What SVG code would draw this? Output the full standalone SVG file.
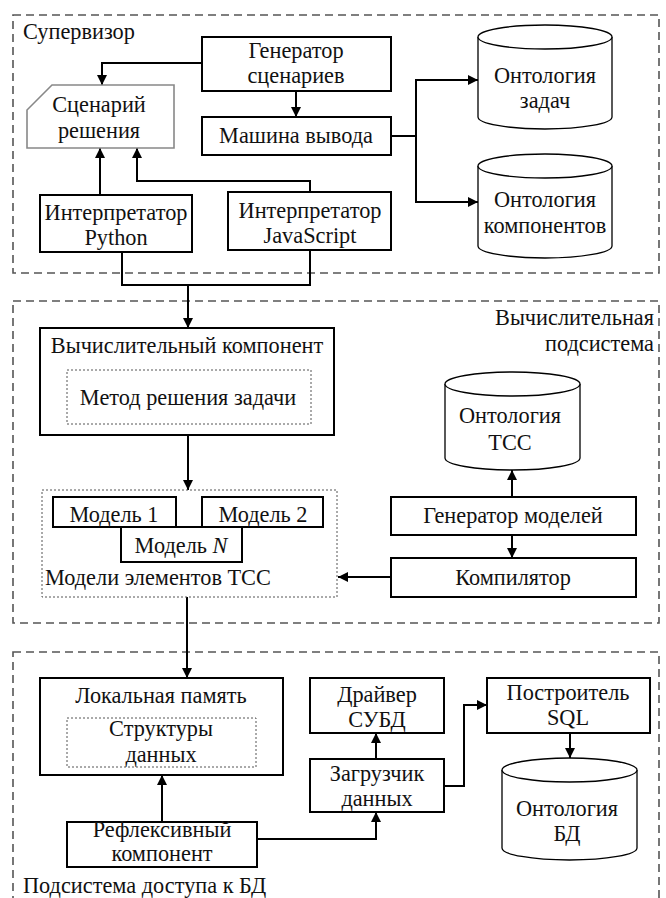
<svg xmlns="http://www.w3.org/2000/svg" width="666" height="898" viewBox="0 0 666 898">
  <defs>
    <marker id="arrow" viewBox="0 0 10 10" refX="10" refY="5" markerWidth="10" markerHeight="10" markerUnits="userSpaceOnUse" orient="auto">
      <path d="M0,0 L10,5 L0,10 z" fill="#000"/>
    </marker>
  </defs>
  <style>
    text { font-family: "Liberation Serif", "Times New Roman", serif; font-size: 22.3px; fill: #111; }
    .mid { text-anchor: middle; }
    .end { text-anchor: end; }
    .box { fill: #fff; stroke: #000; stroke-width: 2; }
    .frame { fill: none; stroke: #555; stroke-width: 1.6; stroke-dasharray: 8 5; }
    .dotted { fill: none; stroke: #555; stroke-width: 1; stroke-dasharray: 2 2; }
    .doc { fill: #fff; stroke: #888; stroke-width: 1.6; }
    .cyl { fill: #fff; stroke: #000; stroke-width: 1.3; }
    .wire { fill: none; stroke: #000; stroke-width: 2; }
    .arr { marker-end: url(#arrow); }
  </style>

  <rect width="666" height="898" fill="#fff"/>

  <!-- subsystem frames -->
  <g id="frame-supervisor">
    <rect class="frame" x="13" y="15" width="646" height="258"/>
    <text x="23" y="39">Супервизор</text>
  </g>
  <g id="frame-compute">
    <rect class="frame" x="13" y="301" width="646" height="322"/>
    <text class="end" x="654" y="325">Вычислительная</text>
    <text class="end" x="654" y="351">подсистема</text>
  </g>
  <g id="frame-db">
    <rect class="frame" x="13" y="652" width="646" height="260"/>
    <text x="23" y="893">Подсистема доступа к БД</text>
  </g>

  <!-- connectors -->
  <g id="connectors">
    <path class="wire arr" d="M202,63 H102 V85"/>
    <path class="wire arr" d="M296,91 V117"/>
    <path class="wire arr" d="M100,195 V148"/>
    <path class="wire arr" d="M310,192 V181 H137 V148"/>
    <path class="wire" d="M122,252 V285 H310 V250"/>
    <path class="wire arr" d="M188,285 V328"/>
    <path class="wire" d="M391,136 H416"/>
    <path class="wire arr" d="M416,136 V80 H478"/>
    <path class="wire arr" d="M416,136 V202 H478"/>
    <path class="wire arr" d="M188,435 V490"/>
    <path class="wire arr" d="M512,497 V470"/>
    <path class="wire arr" d="M512,535 V558"/>
    <path class="wire arr" d="M391,577 H338"/>
    <path class="wire arr" d="M187,597 V678"/>
    <path class="wire arr" d="M162,822 V775"/>
    <path class="wire arr" d="M257,839 H376 V812"/>
    <path class="wire arr" d="M376,759 V733"/>
    <path class="wire arr" d="M445,786 H464 V705 H487"/>
    <path class="wire arr" d="M570,733 V758"/>
  </g>

  <!-- supervisor -->
  <g id="scenario-generator">
    <rect class="box" x="202" y="37" width="189" height="54"/>
    <text class="mid" x="296" y="58">Генератор</text>
    <text class="mid" x="296" y="83">сценариев</text>
  </g>
  <g id="inference-engine">
    <rect class="box" x="202" y="117" width="189" height="38"/>
    <text class="mid" x="296" y="143">Машина вывода</text>
  </g>
  <g id="solution-scenario">
    <path class="doc" d="M52,85 H174 V148 H27 V110 Z"/>
    <text class="mid" x="99" y="112">Сценарий</text>
    <text class="mid" x="99" y="138">решения</text>
  </g>
  <g id="python-interpreter">
    <rect class="box" x="40" y="195" width="152" height="57"/>
    <text class="mid" x="116" y="220">Интерпретатор</text>
    <text class="mid" x="116" y="245">Python</text>
  </g>
  <g id="js-interpreter">
    <rect class="box" x="228" y="192" width="163" height="58"/>
    <text class="mid" x="310" y="218">Интерпретатор</text>
    <text class="mid" x="310" y="243">JavaScript</text>
  </g>
  <g id="task-ontology">
    <path class="cyl" d="M478,37 V117 A67,12 0 0 0 612,117 V37"/>
    <ellipse class="cyl" cx="545" cy="37" rx="67" ry="12"/>
    <text class="mid" x="545" y="83">Онтология</text>
    <text class="mid" x="545" y="108">задач</text>
  </g>
  <g id="component-ontology">
    <path class="cyl" d="M478,166 V246 A67,12 0 0 0 612,246 V166"/>
    <ellipse class="cyl" cx="545" cy="166" rx="67" ry="12"/>
    <text class="mid" x="545" y="207">Онтология</text>
    <text class="mid" x="545" y="233">компонентов</text>
  </g>

  <!-- computing subsystem -->
  <g id="compute-component">
    <rect class="box" x="40" y="328" width="294" height="107"/>
    <text class="mid" x="187" y="353">Вычислительный компонент</text>
    <rect class="dotted" x="67" y="370" width="244" height="54"/>
    <text class="mid" x="188" y="405">Метод решения задачи</text>
  </g>
  <g id="element-models">
    <rect class="dotted" x="42" y="490" width="295" height="107"/>
    <rect class="box" x="53" y="497" width="123" height="30"/>
    <text class="mid" x="114" y="522">Модель 1</text>
    <rect class="box" x="202" y="497" width="121" height="30"/>
    <text class="mid" x="263" y="522">Модель 2</text>
    <rect class="box" x="121" y="527" width="121" height="35"/>
    <text class="mid" x="181" y="553">Модель <tspan font-style="italic">N</tspan></text>
    <text x="45" y="585">Модели элементов ТСС</text>
  </g>
  <g id="tss-ontology">
    <path class="cyl" d="M445,384 V458 A67.5,12 0 0 0 580,458 V384"/>
    <ellipse class="cyl" cx="512.5" cy="384" rx="67.5" ry="12"/>
    <text class="mid" x="510" y="423">Онтология</text>
    <text class="mid" x="510" y="450">ТСС</text>
  </g>
  <g id="model-generator">
    <rect class="box" x="391" y="497" width="245" height="38"/>
    <text class="mid" x="513" y="523">Генератор моделей</text>
  </g>
  <g id="compiler">
    <rect class="box" x="391" y="558" width="245" height="39"/>
    <text class="mid" x="513" y="585">Компилятор</text>
  </g>

  <!-- database access subsystem -->
  <g id="local-memory">
    <rect class="box" x="40" y="678" width="243" height="97"/>
    <text class="mid" x="161" y="703">Локальная память</text>
    <rect class="dotted" x="67" y="718" width="189" height="49"/>
    <text class="mid" x="161" y="736">Структуры</text>
    <text class="mid" x="161" y="762">данных</text>
  </g>
  <g id="reflexive-component">
    <rect class="box" x="67" y="822" width="190" height="45"/>
    <text class="mid" x="162" y="837">Рефлексивный</text>
    <text class="mid" x="162" y="861">компонент</text>
  </g>
  <g id="dbms-driver">
    <rect class="box" x="310" y="678" width="134" height="55"/>
    <text class="mid" x="377" y="702">Драйвер</text>
    <text class="mid" x="377" y="727">СУБД</text>
  </g>
  <g id="data-loader">
    <rect class="box" x="310" y="759" width="134" height="53"/>
    <text class="mid" x="377" y="781">Загрузчик</text>
    <text class="mid" x="377" y="806">данных</text>
  </g>
  <g id="sql-builder">
    <rect class="box" x="487" y="678" width="163" height="55"/>
    <text class="mid" x="568" y="700">Построитель</text>
    <text class="mid" x="568" y="725">SQL</text>
  </g>
  <g id="db-ontology">
    <path class="cyl" d="M502,770 V848 A67.5,12 0 0 0 637,848 V770"/>
    <ellipse class="cyl" cx="569.5" cy="770" rx="67.5" ry="12"/>
    <text class="mid" x="567" y="816">Онтология</text>
    <text class="mid" x="567" y="841">БД</text>
  </g>
</svg>
